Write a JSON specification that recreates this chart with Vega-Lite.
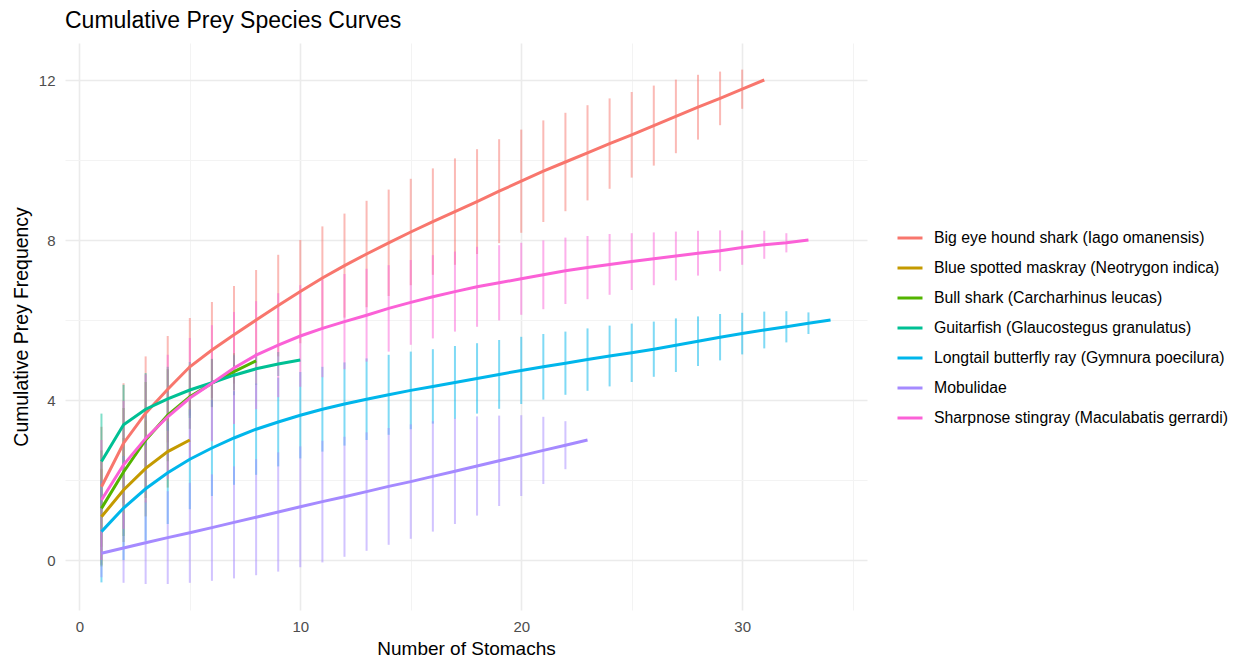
{
  "$schema": "https://vega.github.io/schema/vega-lite/v6.json",
  "width": 802,
  "height": 567,
  "autosize": {"type": "none"},
  "padding": {"left": 65, "top": 43, "right": 374, "bottom": 48},
  "background": "white",
  "title": {"text": "Cumulative Prey Species Curves", "anchor": "start", "frame": "group", "baseline": "alphabetic", "offset": -8, "fontSize": 23, "fontWeight": "normal", "font": "Liberation Sans", "color": "#000000"},
  "config": {"view": {"stroke": null}, "font": "Liberation Sans"},
  "datasets": {
    "d": [
      {"s": "Big eye hound shark (Iago omanensis)", "n": 1, "m": 1.83, "lo": 0.33, "hi": 3.33},
      {"s": "Big eye hound shark (Iago omanensis)", "n": 2, "m": 2.92, "lo": 1.42, "hi": 4.42},
      {"s": "Big eye hound shark (Iago omanensis)", "n": 3, "m": 3.67, "lo": 2.25, "hi": 5.09},
      {"s": "Big eye hound shark (Iago omanensis)", "n": 4, "m": 4.27, "lo": 2.94, "hi": 5.6},
      {"s": "Big eye hound shark (Iago omanensis)", "n": 5, "m": 4.83, "lo": 3.61, "hi": 6.05},
      {"s": "Big eye hound shark (Iago omanensis)", "n": 6, "m": 5.25, "lo": 4.05, "hi": 6.45},
      {"s": "Big eye hound shark (Iago omanensis)", "n": 7, "m": 5.63, "lo": 4.41, "hi": 6.85},
      {"s": "Big eye hound shark (Iago omanensis)", "n": 8, "m": 6.0, "lo": 4.75, "hi": 7.25},
      {"s": "Big eye hound shark (Iago omanensis)", "n": 9, "m": 6.36, "lo": 5.09, "hi": 7.63},
      {"s": "Big eye hound shark (Iago omanensis)", "n": 10, "m": 6.71, "lo": 5.42, "hi": 8.0},
      {"s": "Big eye hound shark (Iago omanensis)", "n": 11, "m": 7.05, "lo": 5.76, "hi": 8.34},
      {"s": "Big eye hound shark (Iago omanensis)", "n": 12, "m": 7.36, "lo": 6.06, "hi": 8.66},
      {"s": "Big eye hound shark (Iago omanensis)", "n": 13, "m": 7.65, "lo": 6.32, "hi": 8.98},
      {"s": "Big eye hound shark (Iago omanensis)", "n": 14, "m": 7.93, "lo": 6.6, "hi": 9.26},
      {"s": "Big eye hound shark (Iago omanensis)", "n": 15, "m": 8.2, "lo": 6.87, "hi": 9.53},
      {"s": "Big eye hound shark (Iago omanensis)", "n": 16, "m": 8.46, "lo": 7.13, "hi": 9.79},
      {"s": "Big eye hound shark (Iago omanensis)", "n": 17, "m": 8.71, "lo": 7.38, "hi": 10.04},
      {"s": "Big eye hound shark (Iago omanensis)", "n": 18, "m": 8.96, "lo": 7.65, "hi": 10.27},
      {"s": "Big eye hound shark (Iago omanensis)", "n": 19, "m": 9.22, "lo": 7.92, "hi": 10.52},
      {"s": "Big eye hound shark (Iago omanensis)", "n": 20, "m": 9.47, "lo": 8.18, "hi": 10.76},
      {"s": "Big eye hound shark (Iago omanensis)", "n": 21, "m": 9.72, "lo": 8.45, "hi": 10.99},
      {"s": "Big eye hound shark (Iago omanensis)", "n": 22, "m": 9.95, "lo": 8.72, "hi": 11.18},
      {"s": "Big eye hound shark (Iago omanensis)", "n": 23, "m": 10.18, "lo": 8.99, "hi": 11.37},
      {"s": "Big eye hound shark (Iago omanensis)", "n": 24, "m": 10.41, "lo": 9.28, "hi": 11.54},
      {"s": "Big eye hound shark (Iago omanensis)", "n": 25, "m": 10.63, "lo": 9.56, "hi": 11.7},
      {"s": "Big eye hound shark (Iago omanensis)", "n": 26, "m": 10.86, "lo": 9.86, "hi": 11.86},
      {"s": "Big eye hound shark (Iago omanensis)", "n": 27, "m": 11.09, "lo": 10.17, "hi": 12.01},
      {"s": "Big eye hound shark (Iago omanensis)", "n": 28, "m": 11.32, "lo": 10.51, "hi": 12.13},
      {"s": "Big eye hound shark (Iago omanensis)", "n": 29, "m": 11.54, "lo": 10.87, "hi": 12.21},
      {"s": "Big eye hound shark (Iago omanensis)", "n": 30, "m": 11.77, "lo": 11.28, "hi": 12.26},
      {"s": "Big eye hound shark (Iago omanensis)", "n": 31, "m": 12.0, "lo": 12.0, "hi": 12.0},
      {"s": "Blue spotted maskray (Neotrygon indica)", "n": 1, "m": 1.08, "lo": -0.12, "hi": 2.28},
      {"s": "Blue spotted maskray (Neotrygon indica)", "n": 2, "m": 1.75, "lo": 0.45, "hi": 3.05},
      {"s": "Blue spotted maskray (Neotrygon indica)", "n": 3, "m": 2.29, "lo": 1.09, "hi": 3.49},
      {"s": "Blue spotted maskray (Neotrygon indica)", "n": 4, "m": 2.71, "lo": 1.81, "hi": 3.61},
      {"s": "Blue spotted maskray (Neotrygon indica)", "n": 5, "m": 3.0, "lo": 3.0, "hi": 3.0},
      {"s": "Bull shark (Carcharhinus leucas)", "n": 1, "m": 1.29, "lo": -0.16, "hi": 2.74},
      {"s": "Bull shark (Carcharhinus leucas)", "n": 2, "m": 2.2, "lo": 0.6, "hi": 3.8},
      {"s": "Bull shark (Carcharhinus leucas)", "n": 3, "m": 3.0, "lo": 1.55, "hi": 4.45},
      {"s": "Bull shark (Carcharhinus leucas)", "n": 4, "m": 3.62, "lo": 2.47, "hi": 4.77},
      {"s": "Bull shark (Carcharhinus leucas)", "n": 5, "m": 4.08, "lo": 3.28, "hi": 4.88},
      {"s": "Bull shark (Carcharhinus leucas)", "n": 6, "m": 4.42, "lo": 3.82, "hi": 5.02},
      {"s": "Bull shark (Carcharhinus leucas)", "n": 7, "m": 4.71, "lo": 4.25, "hi": 5.17},
      {"s": "Bull shark (Carcharhinus leucas)", "n": 8, "m": 4.98, "lo": 4.98, "hi": 4.98},
      {"s": "Guitarfish (Glaucostegus granulatus)", "n": 1, "m": 2.46, "lo": 1.26, "hi": 3.66},
      {"s": "Guitarfish (Glaucostegus granulatus)", "n": 2, "m": 3.38, "lo": 2.38, "hi": 4.38},
      {"s": "Guitarfish (Glaucostegus granulatus)", "n": 3, "m": 3.77, "lo": 2.87, "hi": 4.67},
      {"s": "Guitarfish (Glaucostegus granulatus)", "n": 4, "m": 4.03, "lo": 3.23, "hi": 4.83},
      {"s": "Guitarfish (Glaucostegus granulatus)", "n": 5, "m": 4.25, "lo": 3.55, "hi": 4.95},
      {"s": "Guitarfish (Glaucostegus granulatus)", "n": 6, "m": 4.43, "lo": 3.83, "hi": 5.03},
      {"s": "Guitarfish (Glaucostegus granulatus)", "n": 7, "m": 4.62, "lo": 4.12, "hi": 5.12},
      {"s": "Guitarfish (Glaucostegus granulatus)", "n": 8, "m": 4.78, "lo": 4.38, "hi": 5.18},
      {"s": "Guitarfish (Glaucostegus granulatus)", "n": 9, "m": 4.9, "lo": 4.6, "hi": 5.2},
      {"s": "Guitarfish (Glaucostegus granulatus)", "n": 10, "m": 5.0, "lo": 5.0, "hi": 5.0},
      {"s": "Longtail butterfly ray (Gymnura poecilura)", "n": 1, "m": 0.71, "lo": -0.56, "hi": 1.98},
      {"s": "Longtail butterfly ray (Gymnura poecilura)", "n": 2, "m": 1.3, "lo": 0.0, "hi": 2.6},
      {"s": "Longtail butterfly ray (Gymnura poecilura)", "n": 3, "m": 1.78, "lo": 0.48, "hi": 3.08},
      {"s": "Longtail butterfly ray (Gymnura poecilura)", "n": 4, "m": 2.18, "lo": 0.9, "hi": 3.46},
      {"s": "Longtail butterfly ray (Gymnura poecilura)", "n": 5, "m": 2.52, "lo": 1.27, "hi": 3.77},
      {"s": "Longtail butterfly ray (Gymnura poecilura)", "n": 6, "m": 2.8, "lo": 1.6, "hi": 4.0},
      {"s": "Longtail butterfly ray (Gymnura poecilura)", "n": 7, "m": 3.05, "lo": 1.88, "hi": 4.22},
      {"s": "Longtail butterfly ray (Gymnura poecilura)", "n": 8, "m": 3.27, "lo": 2.13, "hi": 4.41},
      {"s": "Longtail butterfly ray (Gymnura poecilura)", "n": 9, "m": 3.45, "lo": 2.34, "hi": 4.56},
      {"s": "Longtail butterfly ray (Gymnura poecilura)", "n": 10, "m": 3.62, "lo": 2.54, "hi": 4.7},
      {"s": "Longtail butterfly ray (Gymnura poecilura)", "n": 11, "m": 3.77, "lo": 2.71, "hi": 4.83},
      {"s": "Longtail butterfly ray (Gymnura poecilura)", "n": 12, "m": 3.9, "lo": 2.86, "hi": 4.94},
      {"s": "Longtail butterfly ray (Gymnura poecilura)", "n": 13, "m": 4.02, "lo": 3.0, "hi": 5.04},
      {"s": "Longtail butterfly ray (Gymnura poecilura)", "n": 14, "m": 4.13, "lo": 3.13, "hi": 5.13},
      {"s": "Longtail butterfly ray (Gymnura poecilura)", "n": 15, "m": 4.24, "lo": 3.27, "hi": 5.21},
      {"s": "Longtail butterfly ray (Gymnura poecilura)", "n": 16, "m": 4.34, "lo": 3.41, "hi": 5.27},
      {"s": "Longtail butterfly ray (Gymnura poecilura)", "n": 17, "m": 4.44, "lo": 3.53, "hi": 5.35},
      {"s": "Longtail butterfly ray (Gymnura poecilura)", "n": 18, "m": 4.54, "lo": 3.66, "hi": 5.42},
      {"s": "Longtail butterfly ray (Gymnura poecilura)", "n": 19, "m": 4.64, "lo": 3.78, "hi": 5.5},
      {"s": "Longtail butterfly ray (Gymnura poecilura)", "n": 20, "m": 4.74, "lo": 3.9, "hi": 5.58},
      {"s": "Longtail butterfly ray (Gymnura poecilura)", "n": 21, "m": 4.83, "lo": 4.01, "hi": 5.65},
      {"s": "Longtail butterfly ray (Gymnura poecilura)", "n": 22, "m": 4.92, "lo": 4.13, "hi": 5.71},
      {"s": "Longtail butterfly ray (Gymnura poecilura)", "n": 23, "m": 5.01, "lo": 4.23, "hi": 5.79},
      {"s": "Longtail butterfly ray (Gymnura poecilura)", "n": 24, "m": 5.1, "lo": 4.34, "hi": 5.86},
      {"s": "Longtail butterfly ray (Gymnura poecilura)", "n": 25, "m": 5.18, "lo": 4.45, "hi": 5.91},
      {"s": "Longtail butterfly ray (Gymnura poecilura)", "n": 26, "m": 5.27, "lo": 4.58, "hi": 5.96},
      {"s": "Longtail butterfly ray (Gymnura poecilura)", "n": 27, "m": 5.37, "lo": 4.7, "hi": 6.04},
      {"s": "Longtail butterfly ray (Gymnura poecilura)", "n": 28, "m": 5.47, "lo": 4.85, "hi": 6.09},
      {"s": "Longtail butterfly ray (Gymnura poecilura)", "n": 29, "m": 5.57, "lo": 4.99, "hi": 6.15},
      {"s": "Longtail butterfly ray (Gymnura poecilura)", "n": 30, "m": 5.66, "lo": 5.14, "hi": 6.18},
      {"s": "Longtail butterfly ray (Gymnura poecilura)", "n": 31, "m": 5.75, "lo": 5.29, "hi": 6.21},
      {"s": "Longtail butterfly ray (Gymnura poecilura)", "n": 32, "m": 5.83, "lo": 5.44, "hi": 6.22},
      {"s": "Longtail butterfly ray (Gymnura poecilura)", "n": 33, "m": 5.92, "lo": 5.65, "hi": 6.19},
      {"s": "Longtail butterfly ray (Gymnura poecilura)", "n": 34, "m": 6.0, "lo": 6.0, "hi": 6.0},
      {"s": "Mobulidae", "n": 1, "m": 0.17, "lo": -0.43, "hi": 0.77},
      {"s": "Mobulidae", "n": 2, "m": 0.3, "lo": -0.57, "hi": 1.17},
      {"s": "Mobulidae", "n": 3, "m": 0.43, "lo": -0.6, "hi": 1.46},
      {"s": "Mobulidae", "n": 4, "m": 0.56, "lo": -0.6, "hi": 1.72},
      {"s": "Mobulidae", "n": 5, "m": 0.68, "lo": -0.57, "hi": 1.93},
      {"s": "Mobulidae", "n": 6, "m": 0.81, "lo": -0.52, "hi": 2.14},
      {"s": "Mobulidae", "n": 7, "m": 0.94, "lo": -0.46, "hi": 2.34},
      {"s": "Mobulidae", "n": 8, "m": 1.07, "lo": -0.38, "hi": 2.52},
      {"s": "Mobulidae", "n": 9, "m": 1.2, "lo": -0.29, "hi": 2.69},
      {"s": "Mobulidae", "n": 10, "m": 1.33, "lo": -0.18, "hi": 2.84},
      {"s": "Mobulidae", "n": 11, "m": 1.46, "lo": -0.06, "hi": 2.98},
      {"s": "Mobulidae", "n": 12, "m": 1.58, "lo": 0.08, "hi": 3.08},
      {"s": "Mobulidae", "n": 13, "m": 1.71, "lo": 0.23, "hi": 3.19},
      {"s": "Mobulidae", "n": 14, "m": 1.84, "lo": 0.38, "hi": 3.3},
      {"s": "Mobulidae", "n": 15, "m": 1.96, "lo": 0.53, "hi": 3.39},
      {"s": "Mobulidae", "n": 16, "m": 2.09, "lo": 0.71, "hi": 3.47},
      {"s": "Mobulidae", "n": 17, "m": 2.22, "lo": 0.9, "hi": 3.54},
      {"s": "Mobulidae", "n": 18, "m": 2.35, "lo": 1.11, "hi": 3.59},
      {"s": "Mobulidae", "n": 19, "m": 2.48, "lo": 1.35, "hi": 3.61},
      {"s": "Mobulidae", "n": 20, "m": 2.61, "lo": 1.6, "hi": 3.62},
      {"s": "Mobulidae", "n": 21, "m": 2.74, "lo": 1.9, "hi": 3.58},
      {"s": "Mobulidae", "n": 22, "m": 2.87, "lo": 2.27, "hi": 3.47},
      {"s": "Mobulidae", "n": 23, "m": 3.0, "lo": 3.0, "hi": 3.0},
      {"s": "Sharpnose stingray (Maculabatis gerrardi)", "n": 1, "m": 1.5, "lo": 0.0, "hi": 3.0},
      {"s": "Sharpnose stingray (Maculabatis gerrardi)", "n": 2, "m": 2.38, "lo": 0.78, "hi": 3.98},
      {"s": "Sharpnose stingray (Maculabatis gerrardi)", "n": 3, "m": 3.04, "lo": 1.44, "hi": 4.64},
      {"s": "Sharpnose stingray (Maculabatis gerrardi)", "n": 4, "m": 3.58, "lo": 2.03, "hi": 5.13},
      {"s": "Sharpnose stingray (Maculabatis gerrardi)", "n": 5, "m": 4.05, "lo": 2.55, "hi": 5.55},
      {"s": "Sharpnose stingray (Maculabatis gerrardi)", "n": 6, "m": 4.42, "lo": 2.97, "hi": 5.87},
      {"s": "Sharpnose stingray (Maculabatis gerrardi)", "n": 7, "m": 4.8, "lo": 3.4, "hi": 6.2},
      {"s": "Sharpnose stingray (Maculabatis gerrardi)", "n": 8, "m": 5.12, "lo": 3.77, "hi": 6.47},
      {"s": "Sharpnose stingray (Maculabatis gerrardi)", "n": 9, "m": 5.37, "lo": 4.07, "hi": 6.67},
      {"s": "Sharpnose stingray (Maculabatis gerrardi)", "n": 10, "m": 5.6, "lo": 4.33, "hi": 6.87},
      {"s": "Sharpnose stingray (Maculabatis gerrardi)", "n": 11, "m": 5.79, "lo": 4.57, "hi": 7.01},
      {"s": "Sharpnose stingray (Maculabatis gerrardi)", "n": 12, "m": 5.96, "lo": 4.77, "hi": 7.15},
      {"s": "Sharpnose stingray (Maculabatis gerrardi)", "n": 13, "m": 6.12, "lo": 4.96, "hi": 7.28},
      {"s": "Sharpnose stingray (Maculabatis gerrardi)", "n": 14, "m": 6.29, "lo": 5.21, "hi": 7.37},
      {"s": "Sharpnose stingray (Maculabatis gerrardi)", "n": 15, "m": 6.44, "lo": 5.38, "hi": 7.5},
      {"s": "Sharpnose stingray (Maculabatis gerrardi)", "n": 16, "m": 6.58, "lo": 5.54, "hi": 7.62},
      {"s": "Sharpnose stingray (Maculabatis gerrardi)", "n": 17, "m": 6.71, "lo": 5.71, "hi": 7.71},
      {"s": "Sharpnose stingray (Maculabatis gerrardi)", "n": 18, "m": 6.83, "lo": 5.83, "hi": 7.83},
      {"s": "Sharpnose stingray (Maculabatis gerrardi)", "n": 19, "m": 6.93, "lo": 5.99, "hi": 7.87},
      {"s": "Sharpnose stingray (Maculabatis gerrardi)", "n": 20, "m": 7.03, "lo": 6.13, "hi": 7.93},
      {"s": "Sharpnose stingray (Maculabatis gerrardi)", "n": 21, "m": 7.13, "lo": 6.27, "hi": 7.99},
      {"s": "Sharpnose stingray (Maculabatis gerrardi)", "n": 22, "m": 7.23, "lo": 6.4, "hi": 8.06},
      {"s": "Sharpnose stingray (Maculabatis gerrardi)", "n": 23, "m": 7.31, "lo": 6.52, "hi": 8.1},
      {"s": "Sharpnose stingray (Maculabatis gerrardi)", "n": 24, "m": 7.39, "lo": 6.63, "hi": 8.15},
      {"s": "Sharpnose stingray (Maculabatis gerrardi)", "n": 25, "m": 7.46, "lo": 6.75, "hi": 8.17},
      {"s": "Sharpnose stingray (Maculabatis gerrardi)", "n": 26, "m": 7.53, "lo": 6.87, "hi": 8.19},
      {"s": "Sharpnose stingray (Maculabatis gerrardi)", "n": 27, "m": 7.6, "lo": 6.99, "hi": 8.21},
      {"s": "Sharpnose stingray (Maculabatis gerrardi)", "n": 28, "m": 7.67, "lo": 7.11, "hi": 8.23},
      {"s": "Sharpnose stingray (Maculabatis gerrardi)", "n": 29, "m": 7.73, "lo": 7.22, "hi": 8.24},
      {"s": "Sharpnose stingray (Maculabatis gerrardi)", "n": 30, "m": 7.81, "lo": 7.38, "hi": 8.24},
      {"s": "Sharpnose stingray (Maculabatis gerrardi)", "n": 31, "m": 7.88, "lo": 7.53, "hi": 8.23},
      {"s": "Sharpnose stingray (Maculabatis gerrardi)", "n": 32, "m": 7.93, "lo": 7.69, "hi": 8.17},
      {"s": "Sharpnose stingray (Maculabatis gerrardi)", "n": 33, "m": 8.0, "lo": 8.0, "hi": 8.0}
    ]
  },
  "data": {"name": "d"},
  "encoding": {
    "x": {
      "field": "n", "type": "quantitative",
      "scale": {"domain": [-0.65, 35.65], "nice": false, "zero": false},
      "axis": {
        "values": [0, 5, 10, 15, 20, 25, 30, 35],
        "labelExpr": "datum.value % 10 === 0 ? datum.label : ''",
        "labelOverlap": false, "labelFlush": false,
        "domain": false, "ticks": false, "tickSize": 0,
        "grid": true,
        "gridColor": {"condition": {"test": "datum.value % 10 === 0", "value": "#EBEBEB"}, "value": "#F3F3F3"},
        "gridWidth": {"condition": {"test": "datum.value % 10 === 0", "value": 1.6}, "value": 1.0},
        "labelFontSize": 15, "labelColor": "#4D4D4D", "labelPadding": 9, "labelFont": "Liberation Sans",
        "title": "Number of Stomachs", "titleFontSize": 19, "titleFontWeight": "normal", "titleColor": "#000000", "titlePadding": 5, "titleFont": "Liberation Sans"
      }
    },
    "y": {
      "field": "m", "type": "quantitative",
      "scale": {"domain": [-1.25, 12.925], "nice": false, "zero": false},
      "axis": {
        "values": [0, 2, 4, 6, 8, 10, 12],
        "labelExpr": "datum.value % 4 === 0 ? datum.label : ''",
        "labelOverlap": false, "labelFlush": false,
        "domain": false, "ticks": false, "tickSize": 0,
        "grid": true,
        "gridColor": {"condition": {"test": "datum.value % 4 === 0", "value": "#EBEBEB"}, "value": "#F3F3F3"},
        "gridWidth": {"condition": {"test": "datum.value % 4 === 0", "value": 1.6}, "value": 1.0},
        "labelFontSize": 15, "labelColor": "#4D4D4D", "labelPadding": 10, "labelFont": "Liberation Sans",
        "title": "Cumulative Prey Frequency", "titleFontSize": 19.4, "titleFontWeight": "normal", "titleColor": "#000000", "titlePadding": 7, "titleFont": "Liberation Sans"
      }
    },
    "color": {
      "field": "s", "type": "nominal",
      "scale": {
        "domain": ["Big eye hound shark (Iago omanensis)", "Blue spotted maskray (Neotrygon indica)", "Bull shark (Carcharhinus leucas)", "Guitarfish (Glaucostegus granulatus)", "Longtail butterfly ray (Gymnura poecilura)", "Mobulidae", "Sharpnose stingray (Maculabatis gerrardi)"],
        "range": ["#F8766D", "#C49A00", "#53B400", "#00C094", "#00B6EB", "#A58AFF", "#FB61D7"]
      },
      "legend": {
        "title": null, "orient": "none", "legendX": 831, "legendY": 181,
        "padding": 0, "symbolType": "stroke", "symbolSize": 625, "symbolStrokeWidth": 3, "symbolOpacity": 1,
        "rowPadding": 8, "labelOffset": 10, "labelFontSize": 15.8, "labelColor": "#000000", "labelFont": "Liberation Sans", "labelLimit": 400
      }
    }
  },
  "layer": [
    {
      "mark": {"type": "rule", "strokeWidth": 2, "opacity": 0.5},
      "encoding": {
        "y": {"field": "lo", "type": "quantitative"},
        "y2": {"field": "hi"}
      }
    },
    {
      "mark": {"type": "line", "strokeWidth": 3}
    }
  ]
}
